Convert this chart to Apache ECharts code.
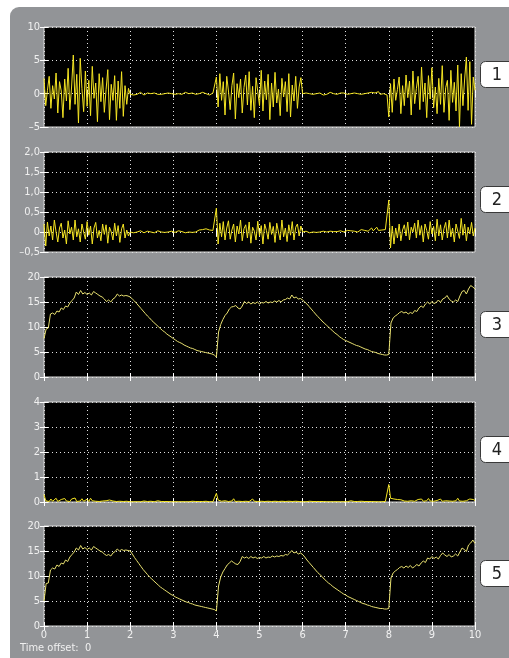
<!DOCTYPE html>
<html><head><meta charset="utf-8">
<script src="https://cdn.jsdelivr.net/npm/echarts@6/dist/echarts.min.js"></script>
<style>html,body{margin:0;padding:0;background:#fff}#c{width:509px;height:658px}</style>
</head><body><div id="c"></div>
<script>
// time steps of the sampled signals (seconds)
const dtNoise = 0.04;
const dtSmooth = 0.05;

const xLabels = ['0','1','2','3','4','5','6','7','8','9','10'];
const panelNumbers = ['1','2','3','4','5'];
const yLabels1 = ['–5','0','5','10'];
const yLabels2 = ['–0,5','0','0,5','1,0','1,5','2,0'];
const yLabels3 = ['0','5','10','15','20'];
const yLabels4 = ['0','1','2','3','4'];
const yLabels5 = ['0','5','10','15','20'];

// signal 1 (dt 0.04)
const sig1 = [
 2.3,-1.8,0.5,2.6,-2.2,1.2,-0.8,3.1,-2.9,1.8,
 0.4,-3.6,2.2,-1.1,3.8,-2.4,1.0,5.8,-1.6,2.9,
 -4.4,5.3,0.8,-2.7,3.4,-1.9,2.0,-3.3,4.1,-0.7,
 1.6,-4.2,3.0,-1.2,2.4,-2.8,0.6,3.6,-3.9,1.4,
 -1.0,2.7,-4.0,1.9,-2.2,3.3,-3.4,1.2,-1.6,0.8,
 -0.1,0.0,-0.2,0.1,-0.1,0.0,0.2,-0.1,-0.2,0.0,
 0.1,-0.1,0.0,-0.2,0.1,0.2,-0.1,0.0,-0.1,0.1,
 0.0,-0.2,0.1,-0.1,0.0,0.1,-0.1,-0.2,0.0,0.1,
 -0.1,0.0,0.2,-0.1,0.0,-0.2,0.1,0.0,-0.1,0.1,
 0.0,-0.1,0.2,-0.1,0.0,0.1,-0.2,0.0,0.1,-0.1,
 2.5,-2.0,3.0,-1.0,1.8,-3.2,2.6,0.4,-2.4,1.2,
 3.1,-3.8,1.5,-0.6,2.2,-2.9,0.9,2.8,-1.7,3.3,
 -2.5,1.1,-3.6,2.4,0.3,-1.8,3.5,-2.6,1.9,-0.9,
 2.9,-3.9,1.6,-2.0,3.2,-1.4,0.7,-3.3,2.3,-0.5,
 1.8,-2.7,3.0,-3.5,1.3,-1.1,2.6,-2.2,1.0,2.4,
 0.0,-0.1,0.1,-0.2,0.0,0.1,-0.1,0.2,0.0,-0.1,
 0.1,0.0,-0.2,0.1,-0.1,0.0,0.2,-0.1,0.0,0.1,
 -0.1,0.0,0.1,-0.2,0.1,0.0,-0.1,0.2,0.0,-0.1,
 0.1,-0.2,0.0,0.1,-0.1,0.2,0.0,-0.1,0.1,0.0,
 0.2,-0.1,0.1,0.0,0.3,-0.1,0.2,0.0,0.1,-0.2,
 -3.5,1.5,-2.8,2.2,-1.0,0.6,2.5,-3.0,1.2,-1.8,
 2.8,-0.6,1.9,-3.2,3.4,-1.5,0.8,2.6,-2.4,4.0,
 -1.2,1.6,-3.6,2.7,-0.8,3.9,-2.1,1.0,-3.0,2.3,
 -1.6,4.2,-2.8,0.9,2.0,-4.0,3.5,-1.3,1.7,-2.6,
 4.3,-5.0,3.0,-1.8,2.2,5.5,-2.5,4.8,-4.6,2.5,
 0.5
];

// signal 2 (dt 0.04)
const sig2 = [
 0.2,-0.35,0.25,-0.1,0.15,-0.2,0.3,0.0,-0.25,0.1,
 0.22,-0.15,0.05,-0.3,0.28,-0.05,0.12,-0.2,0.3,-0.12,
 0.08,-0.25,0.2,0.0,-0.18,0.26,-0.08,0.15,-0.3,0.1,
 0.24,-0.15,0.04,-0.22,0.2,-0.06,0.18,-0.28,0.12,0.0,
 -0.2,0.22,-0.1,0.16,-0.26,0.08,0.2,-0.15,0.05,-0.1,
 0.0,0.02,-0.02,0.01,0.0,-0.01,0.03,0.0,-0.02,0.01,
 0.02,-0.01,0.0,0.02,-0.02,0.01,0.03,-0.01,0.0,0.02,
 -0.01,0.01,0.0,-0.02,0.02,0.01,-0.01,0.0,0.03,-0.01,
 0.01,0.0,-0.02,0.02,0.0,0.01,-0.01,0.03,0.0,0.02,
 0.05,0.01,0.06,0.02,0.08,0.03,0.05,0.09,0.04,0.07,
 0.6,-0.3,0.22,-0.12,0.26,-0.2,0.1,0.28,-0.18,0.05,
 0.2,-0.25,0.15,-0.05,0.3,-0.22,0.08,0.18,-0.15,0.25,
 -0.28,0.12,0.02,-0.2,0.27,-0.1,0.16,-0.3,0.2,0.04,
 -0.18,0.24,-0.06,0.14,-0.26,0.22,0.0,-0.2,0.3,-0.12,
 0.1,-0.24,0.18,-0.08,0.26,-0.2,0.12,0.2,-0.1,0.15,
 0.0,-0.01,0.02,0.0,-0.02,0.01,0.0,0.02,-0.01,0.01,
 0.0,-0.02,0.02,0.01,0.0,-0.01,0.02,0.0,0.01,-0.02,
 0.01,0.0,0.03,-0.01,0.0,0.02,0.04,0.0,0.03,-0.01,
 0.02,0.05,0.0,0.03,0.06,0.01,0.04,0.08,0.02,0.05,
 0.1,0.03,0.06,0.12,0.04,0.08,0.05,0.1,0.06,0.04,
 0.8,-0.4,0.15,-0.3,0.1,-0.15,0.2,-0.22,0.05,0.18,
 -0.1,0.25,-0.2,0.12,0.0,0.22,-0.15,0.3,-0.08,0.16,
 -0.25,0.2,0.04,-0.18,0.26,-0.05,0.14,-0.22,0.32,-0.1,
 0.18,-0.2,0.08,0.24,-0.15,0.3,-0.12,0.1,-0.25,0.2,
 0.02,-0.16,0.34,-0.08,0.2,-0.22,0.12,-0.05,0.24,-0.1,
 0.1
];

// signal 3 (dt 0.05)
const sig3 = [
 7.7,9.6,9.8,12.6,12.8,12.5,13.2,13.0,13.8,13.5,
 14.2,14.0,14.8,15.3,15.8,17.0,16.5,17.3,16.6,16.9,
 16.5,16.8,16.4,17.1,16.8,16.5,16.2,16.0,15.6,15.1,
 15.4,15.0,15.6,15.9,16.6,16.2,16.4,16.2,16.3,16.2,
 16.0,15.6,15.2,14.7,14.2,13.7,13.2,12.7,12.2,11.8,
 11.3,10.9,10.5,10.1,9.7,9.3,9.0,8.6,8.3,8.0,
 7.7,7.4,7.1,6.9,6.7,6.4,6.2,6.0,5.8,5.7,
 5.5,5.3,5.2,5.1,5.0,4.9,4.8,4.7,4.6,4.4,
 4.0,9.0,10.5,11.5,12.3,12.8,13.6,14.0,14.1,14.3,
 13.8,13.6,14.2,15.1,14.7,15.0,14.6,14.9,14.7,15.0,
 14.6,14.9,14.8,15.1,14.8,15.0,14.9,15.2,15.0,15.3,
 15.0,15.4,15.5,15.8,15.6,16.4,15.8,16.0,15.6,15.7,
 15.4,15.0,14.6,14.1,13.6,13.1,12.6,12.1,11.7,11.2,
 10.8,10.4,10.0,9.6,9.2,8.8,8.5,8.1,7.8,7.5,
 7.3,7.1,6.9,6.7,6.5,6.3,6.2,6.0,5.8,5.6,
 5.5,5.3,5.1,5.0,4.9,4.7,4.6,4.5,4.4,4.4,
 4.5,10.8,11.8,12.2,12.5,12.9,13.1,12.8,13.0,12.6,
 12.9,12.7,13.3,13.1,13.8,14.2,13.9,14.6,15.0,14.6,
 15.1,14.7,14.9,15.4,14.9,15.6,15.8,16.3,15.6,15.2,
 15.0,15.4,15.1,16.2,17.1,17.3,16.6,17.6,18.3,18.0,
 17.6
];

// signal 4 (dt 0.04)
const sig4 = [
 0.30,0.05,0.10,0.02,0.12,0.03,0.08,0.15,0.02,0.06,
 0.10,0.03,0.14,0.04,0.08,0.02,0.12,0.05,0.16,0.02,
 0.09,0.04,0.13,0.03,0.07,0.11,0.02,0.15,0.05,0.08,
 0.03,0.06,0.02,0.10,0.04,0.02,0.05,0.03,0.08,0.02,
 0.04,0.06,0.02,0.09,0.03,0.05,0.02,0.07,0.03,0.02,
 0.01,0.02,0.01,0.03,0.01,0.02,0.01,0.02,0.04,0.01,
 0.02,0.01,0.03,0.02,0.01,0.02,0.05,0.01,0.02,0.01,
 0.02,0.01,0.02,0.03,0.01,0.02,0.01,0.02,0.01,0.03,
 0.01,0.02,0.01,0.02,0.01,0.02,0.03,0.01,0.02,0.01,
 0.02,0.01,0.02,0.01,0.03,0.02,0.01,0.02,0.01,0.02,
 0.35,0.08,0.12,0.03,0.09,0.05,0.11,0.02,0.07,0.04,
 0.13,0.02,0.06,0.03,0.10,0.02,0.05,0.03,0.08,0.02,
 0.04,0.12,0.03,0.06,0.02,0.09,0.03,0.05,0.02,0.07,
 0.03,0.11,0.02,0.05,0.03,0.08,0.02,0.04,0.03,0.06,
 0.02,0.10,0.03,0.05,0.02,0.08,0.03,0.04,0.02,0.05,
 0.01,0.02,0.01,0.02,0.03,0.01,0.02,0.01,0.02,0.01,
 0.02,0.01,0.02,0.04,0.01,0.02,0.01,0.02,0.01,0.02,
 0.01,0.03,0.01,0.02,0.01,0.02,0.01,0.02,0.05,0.01,
 0.02,0.01,0.02,0.01,0.03,0.01,0.02,0.01,0.02,0.01,
 0.02,0.03,0.01,0.02,0.01,0.02,0.01,0.03,0.02,0.01,
 0.70,0.15,0.08,0.12,0.05,0.10,0.03,0.09,0.06,0.04,
 0.11,0.03,0.08,0.05,0.13,0.03,0.07,0.10,0.04,0.12,
 0.03,0.08,0.05,0.14,0.04,0.09,0.03,0.11,0.06,0.04,
 0.12,0.03,0.08,0.05,0.13,0.04,0.07,0.03,0.10,0.05,
 0.15,0.04,0.09,0.03,0.11,0.05,0.08,0.12,0.04,0.10,
 0.06
];

// signal 5 (dt 0.05)
const sig5 = [
 5.0,8.5,8.6,11.2,11.6,11.4,12.2,11.9,12.6,12.4,
 13.2,12.9,13.8,14.3,14.8,15.6,15.2,16.1,15.4,15.7,
 15.3,15.6,15.2,15.9,15.6,15.3,15.0,14.8,14.4,14.1,
 14.3,14.0,14.6,14.9,15.4,15.0,15.3,15.1,15.2,15.1,
 15.0,14.4,13.7,13.1,12.5,11.9,11.3,10.8,10.3,9.8,
 9.4,9.0,8.6,8.2,7.8,7.5,7.2,6.9,6.6,6.3,
 6.1,5.8,5.6,5.4,5.2,5.0,4.8,4.7,4.5,4.4,
 4.2,4.1,4.0,3.9,3.8,3.7,3.6,3.5,3.4,3.3,
 3.0,8.0,9.8,10.8,11.5,12.2,12.6,13.0,12.7,12.4,
 12.3,12.9,13.9,13.6,13.8,13.5,13.9,13.6,13.8,13.5,
 13.7,13.6,13.9,13.6,13.8,13.7,14.0,13.8,14.0,13.9,
 14.1,14.0,14.3,14.2,14.6,15.1,14.6,14.8,14.4,14.6,
 14.3,13.8,13.2,12.7,12.2,11.7,11.2,10.7,10.3,9.9,
 9.4,9.0,8.6,8.3,7.9,7.6,7.3,7.0,6.7,6.4,
 6.2,5.9,5.7,5.5,5.3,5.1,4.9,4.7,4.5,4.4,
 4.2,4.1,3.9,3.8,3.7,3.6,3.5,3.5,3.4,3.4,
 3.5,9.6,10.6,11.0,11.3,11.7,11.9,11.6,12.0,11.7,
 12.1,11.6,11.9,12.3,12.0,12.6,13.0,12.7,13.6,13.4,
 13.9,13.5,13.8,13.4,14.1,14.6,14.2,13.9,14.3,13.8,
 14.0,14.4,14.0,14.8,15.6,15.3,14.9,16.2,16.6,17.2,
 16.5
];

const panels = [
  {data: sig1, dt: dtNoise,  min: -5,   max: 10, interval: 5,   labels: yLabels1, color: '#f4e423'},
  {data: sig2, dt: dtNoise,  min: -0.5, max: 2,  interval: 0.5, labels: yLabels2, color: '#f4e423'},
  {data: sig3, dt: dtSmooth, min: 0,    max: 20, interval: 5,   labels: yLabels3, color: '#e8e070'},
  {data: sig4, dt: dtNoise,  min: 0,    max: 4,  interval: 1,   labels: yLabels4, color: '#f4e423'},
  {data: sig5, dt: dtSmooth, min: 0,    max: 20, interval: 5,   labels: yLabels5, color: '#e8e070'}
];

const FONT = "'Liberation Sans Narrow', 'DejaVu Sans Condensed', 'Liberation Sans', sans-serif";
const LEFT = 44, WIDTH = 431, HEIGHT = 100;
const tops = [27, 152, 277, 402, 526];

const grid = [], xAxis = [], yAxis = [], series = [], graphic = [];

graphic.push({
  type: 'rect', z: -10, silent: true,
  shape: {x: 10, y: 7, width: 520, height: 670, r: [9, 0, 0, 0]},
  style: {fill: '#929497'}
});

panels.forEach((p, i) => {
  grid.push({left: LEFT, top: tops[i], width: WIDTH, height: HEIGHT,
    show: true, backgroundColor: '#000', borderColor: '#d8d8d8', borderWidth: 1});
  const tick = {show: true, inside: true, length: 4, lineStyle: {color: '#ffffff', width: 1}};
  xAxis.push({
    gridIndex: i, type: 'value', min: 0, max: 10, interval: 1, position: 'bottom',
    axisLine: {show: false}, axisTick: tick,
    axisLabel: {show: i === 4, color: '#f0f0f0', fontSize: 11, fontFamily: FONT, margin: 4,
      formatter: v => xLabels[Math.round(v)]},
    splitLine: {show: true, lineStyle: {color: '#e0e0e0', type: [1, 3], width: 1}}
  });
  xAxis.push({
    gridIndex: i, type: 'value', min: 0, max: 10, interval: 1, position: 'top',
    axisLine: {show: false}, axisTick: tick, axisLabel: {show: false}, splitLine: {show: false}
  });
  yAxis.push({
    gridIndex: i, type: 'value', min: p.min, max: p.max, interval: p.interval, position: 'left',
    axisLine: {show: false}, axisTick: tick,
    axisLabel: {color: '#f0f0f0', fontSize: 11, fontFamily: FONT, margin: 4,
      formatter: v => p.labels[Math.round((v - p.min) / p.interval)]},
    splitLine: {show: true, lineStyle: {color: '#e0e0e0', type: [1, 3], width: 1}}
  });
  yAxis.push({
    gridIndex: i, type: 'value', min: p.min, max: p.max, interval: p.interval, position: 'right',
    axisLine: {show: false}, axisTick: tick, axisLabel: {show: false}, splitLine: {show: false}
  });
  series.push({
    type: 'line', xAxisIndex: 2 * i, yAxisIndex: 2 * i,
    showSymbol: false, symbol: 'none', smooth: false,
    lineStyle: {color: p.color, width: 1}, clip: true,
    data: p.data.map((v, k) => [+(k * p.dt).toFixed(3), v])
  });
  const cy = tops[i] + 48;
  graphic.push({
    type: 'rect', z: 100, silent: true,
    shape: {x: 480.5, y: cy - 13.5, width: 40, height: 26, r: 5},
    style: {fill: '#ffffff', stroke: '#3a3a3a', lineWidth: 1}
  });
  graphic.push({
    type: 'text', z: 101, silent: true, x: 497, y: cy,
    style: {text: panelNumbers[i], fill: '#222', font: '18px ' + FONT, align: 'center', verticalAlign: 'middle'}
  });
});

graphic.push({
  type: 'text', z: 101, silent: true, x: 20, y: 648,
  style: {text: 'Time offset:  0', fill: '#f0f0f0', font: '11px ' + FONT, align: 'left', verticalAlign: 'middle'}
});

const chart = echarts.init(document.getElementById('c'), null, {renderer: 'canvas'});
chart.setOption({
  animation: false,
  backgroundColor: '#ffffff',
  grid, xAxis, yAxis, series, graphic
});
</script>
</body></html>
